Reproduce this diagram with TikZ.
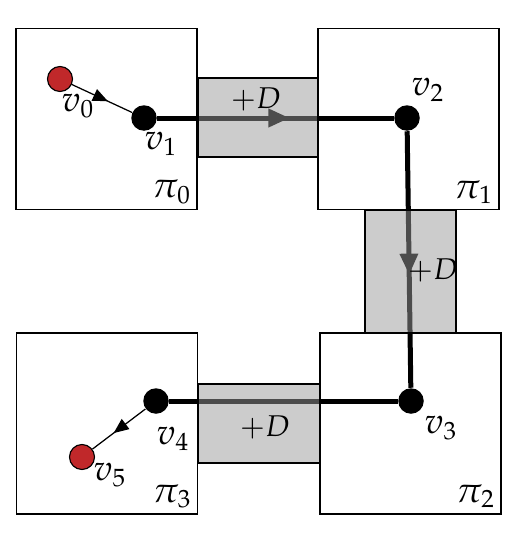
\documentclass[tikz,border=0pt]{standalone}
\usepackage{amsmath}
\usepackage{mathpazo}
\usetikzlibrary{arrows.meta,decorations.markings}
\definecolor{vred}{RGB}{192, 40, 42}
\definecolor{dlink}{RGB}{153, 153, 153}

\begin{document}
\begin{tikzpicture}[
    x=0.4pt, y=-0.4pt,
    region/.style={
        rectangle, draw=black, line width=0.7pt,
        fill=white,
        minimum width=72.4pt, minimum height=72.4pt,
        inner sep=0pt
    },
    delay/.style={
        rectangle, draw=black, line width=0.7pt,
        fill=dlink, fill opacity=0.5,
        inner sep=0pt
    },
    vertex/.style={
        circle, fill=black,
        minimum size=10.2pt, inner sep=0pt
    },
    endpoint/.style={
        circle, draw=black, line width=0.45pt,
        fill=vred,
        minimum size=10pt, inner sep=0pt
    },
    hop/.style={
        line width=2pt,
        postaction={decorate},
        decoration={markings,
            mark=at position 0.56 with {\arrow{Triangle[length=8.5pt,width=7pt]}}}
    },
    local/.style={
        line width=0.5pt,
        postaction={decorate},
        decoration={markings,
            mark=at position 0.6 with {\arrow{Triangle[length=6pt,width=5pt]}}}
    },
    vlabel/.style={font=\Large},
    plabel/.style={font=\Large, inner sep=2.5pt},
    dlabel/.style={font=\large}
]
\useasboundingbox (0,0) rectangle (530,540);

% Regions
\node[region] (pi0) at (106.5,119) {};
\node[region] (pi1) at (408.5,119) {};
\node[region] (pi2) at (410.5,423.5) {};
\node[region] (pi3) at (107,423.5) {};

% Vertices
\node[endpoint] (v0) at (60,79) {};
\node[vertex] (v1) at (144,118) {};
\node[vertex] (v2) at (407,118) {};
\node[vertex] (v3) at (411,401) {};
\node[vertex] (v4) at (156,401) {};
\node[endpoint] (v5) at (82,457) {};

% Path
\draw[local] (v0) -- (v1);
\draw[hop] (v1) -- (v2);
\draw[hop] (v2) -- (v3);
\draw[line width=2pt] (v3) -- (v4);
\draw[local] (v4) -- (v5);

% Delay links between regions
\node[delay, minimum width=48pt, minimum height=31.6pt] (d01) at (258,117.5) {};
\node[delay, minimum width=36.4pt, minimum height=49.2pt] (d12) at (410.5,271.5) {};
\node[delay, minimum width=48.8pt, minimum height=31.6pt] (d23) at (259,423.5) {};

% Labels
\node[dlabel] at (256,99) {$+D$};
\node[dlabel] at (433,270) {$+D$};
\node[dlabel] at (265,427) {$+D$};

\node[vlabel] at (78,106) {$v_0$};
\node[vlabel] at (161,144) {$v_1$};
\node[vlabel] at (428,90) {$v_2$};
\node[vlabel] at (441,428) {$v_3$};
\node[vlabel] at (173,439) {$v_4$};
\node[vlabel] at (110,475) {$v_5$};

\node[plabel, anchor=south east] at (pi0.south east) {$\pi_0$};
\node[plabel, anchor=south east] at (pi1.south east) {$\pi_1$};
\node[plabel, anchor=south east] at (pi2.south east) {$\pi_2$};
\node[plabel, anchor=south east] at (pi3.south east) {$\pi_3$};

\end{tikzpicture}
\end{document}
